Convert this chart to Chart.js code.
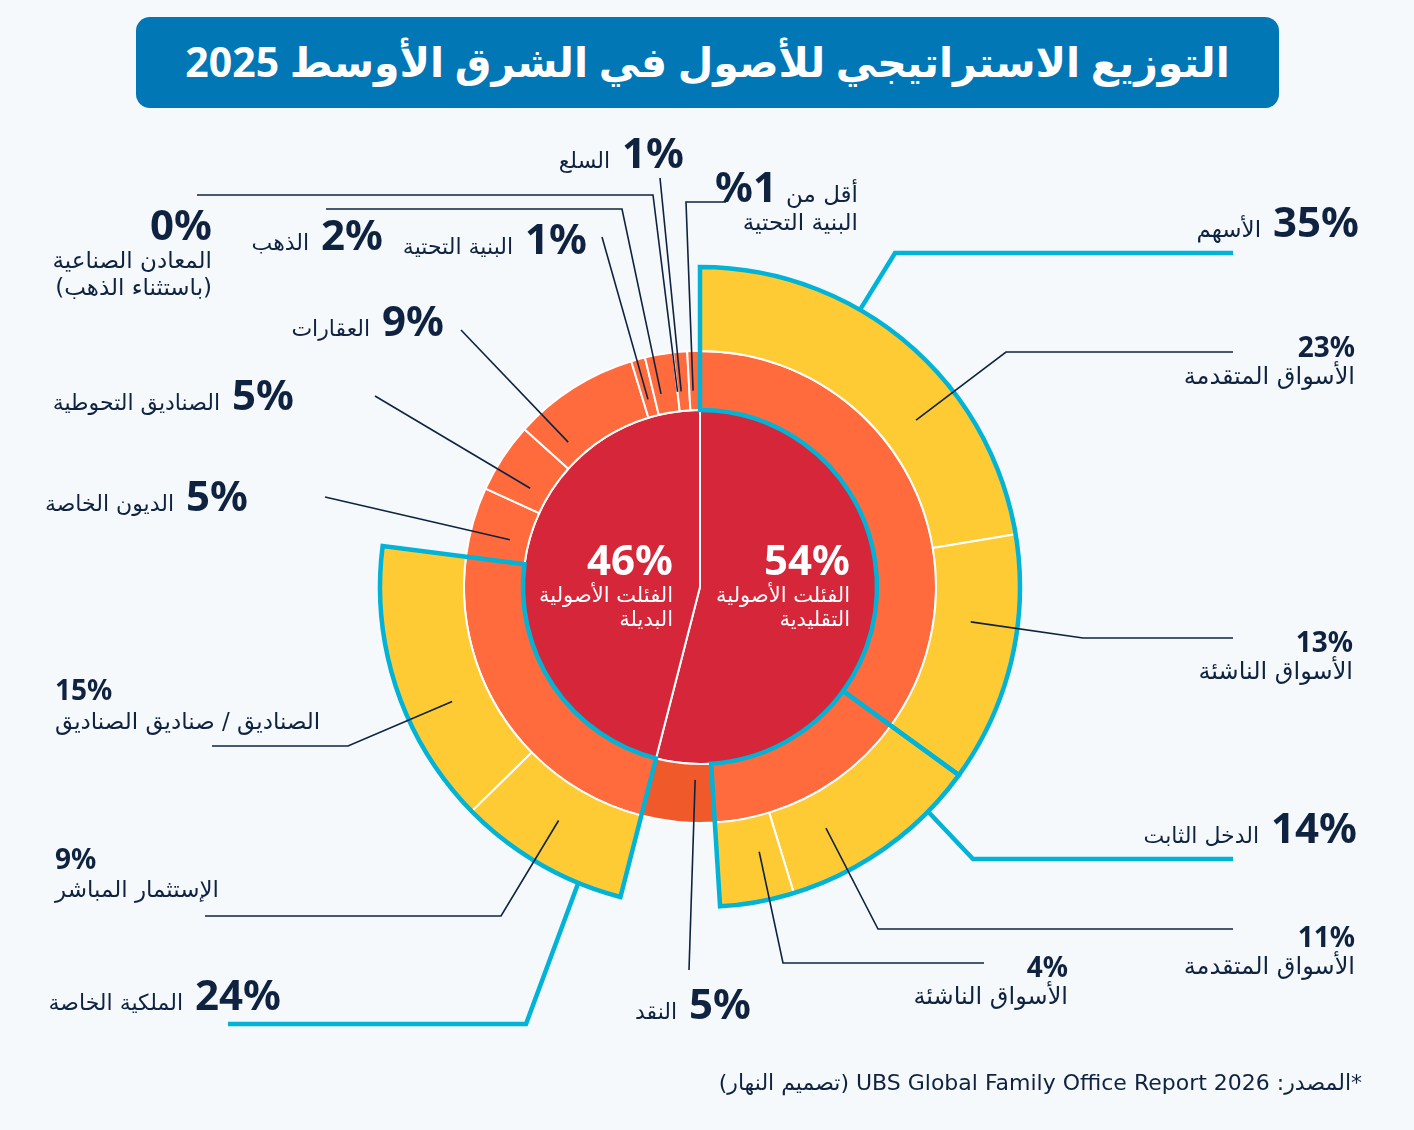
<!DOCTYPE html>
<html lang="ar">
<head>
<meta charset="utf-8">
<title>التوزيع الاستراتيجي للأصول في الشرق الأوسط 2025</title>
<script src="https://cdn.jsdelivr.net/npm/chart.js@4.4.1/dist/chart.umd.min.js"></script>
<style>
  html, body { margin: 0; padding: 0; background: #f5f9fc; }
  body { width: 1414px; height: 1130px; position: relative; overflow: hidden; }
  #title {
    position: absolute; left: 136px; top: 17px; width: 1143px; height: 91px;
    background: #0177b6; border-radius: 14px; color: #fff;
    font: bold 41px "Noto Sans", "DejaVu Sans", sans-serif;
    line-height: 88px; text-align: center; direction: rtl;
  }
  #chart { position: absolute; left: 0; top: 0; }
</style>
</head>
<body>
<div id="title">التوزيع الاستراتيجي للأصول في الشرق الأوسط 2025</div>
<canvas id="chart" width="1414" height="1130"></canvas>
<script>
// inner ring: the two asset-class families
const groupLabels = ['الفئلت الأصولية\nالتقليدية', 'الفئلت الأصولية\nالبديلة'];
const groupValues = [54, 46];

// middle ring: asset classes (clockwise from the top)
const classLabels = [
  'الأسهم', 'الدخل الثابت', 'النقد', 'الملكية الخاصة', 'الديون الخاصة',
  'الصناديق التحوطية', 'العقارات', 'البنية التحتية', 'الذهب',
  'المعادن الصناعية\n(باستثناء الذهب)', 'السلع', 'البنية التحتية'
];
const classValues = [35, 14, 5, 24, 5, 5, 9, 1, 2, 0, 1, 0.9]; // last one is "less than 1%"
const classGroup = [0, 0, 0, 1, 1, 1, 1, 1, 1, 1, 1, 1];

// outer ring: breakdown of equities, fixed income and private equity
const subLabels = [
  'الأسواق المتقدمة', 'الأسواق الناشئة', 'الأسواق المتقدمة', 'الأسواق الناشئة',
  'الإستثمار المباشر', 'الصناديق / صناديق الصناديق'
];
const subValues = [23, 13, 11, 4, 9, 15];
const subParent = [0, 0, 1, 1, 3, 3];

const red = '#d62639', orange = '#ff6b3d', cashOrange = '#f05a2a', yellow = '#ffcb34';
const cyan = '#00b3d7', navy = '#0f2340';
const numFont = '"Noto Sans", "DejaVu Sans", sans-serif';
const txtFont = '"DejaVu Sans", "Noto Sans", sans-serif';

// each ring is drawn to fit inside its parent, like a sunburst
const groupSum = groupValues.map((_, g) =>
  classValues.reduce((s, v, i) => (classGroup[i] === g ? s + v : s), 0));
const classShare = classValues.map((v, i) => v * groupValues[classGroup[i]] / groupSum[classGroup[i]]);

const outerData = [], outerColors = [], outerBorders = [], subElement = [];
classShare.forEach((share, c) => {
  const kids = subValues.map((v, s) => [v, s]).filter(([, s]) => subParent[s] === c);
  if (!kids.length) {
    outerData.push(share);
    outerColors.push('rgba(0,0,0,0)');
    outerBorders.push(0);
    return;
  }
  const kidSum = kids.reduce((s, [v]) => s + v, 0);
  kids.forEach(([v, s]) => {
    subElement[s] = outerData.length;
    outerData.push(v * share / kidSum);
    outerColors.push(yellow);
    outerBorders.push(2);
  });
});

const pctText = v => (v > 0 && v < 1 ? '%1' : v + '%');

// label layout: anchor on the arc (fraction of angle, fraction of ring depth), leader path, text spots
// a name on the same baseline as its number sits just left of it
const labelLayout = [
  { ring: 'class', i: 0, at: [0.238, 1], edge: true, path: [[895, 253], [1233, 253]], num: [1359, 237, 42], name: [0, 237, 23] },
  { ring: 'sub', i: 0, at: [0.65, 0.44], path: [[1006, 352], [1233, 352]], num: [1355, 357, 28], name: [1355, 384, 24] },
  { ring: 'sub', i: 1, at: [0.37, 0.44], path: [[1083, 638], [1233, 638]], num: [1353, 652, 28], name: [1353, 679, 24] },
  { ring: 'class', i: 1, at: [0.17, 1], edge: true, path: [[973, 859], [1233, 859]], num: [1357, 843, 42], name: [0, 843, 22] },
  { ring: 'sub', i: 2, at: [0.715, 0.43], path: [[878, 929], [1233, 929]], num: [1355, 947, 28], name: [1355, 974, 24] },
  { ring: 'sub', i: 3, at: [0.33, 0.42], path: [[783, 963], [984, 963]], num: [1068, 977, 28], name: [1068, 1004, 24] },
  { ring: 'class', i: 2, at: [0.28, 0.27], path: [[689, 970]], num: [751, 1019, 42], name: [0, 1019, 22] },
  { ring: 'class', i: 3, at: [0.096, 1], edge: true, path: [[526, 1024], [228, 1024]], num: [281, 1010, 42], name: [0, 1010, 22] },
  { ring: 'sub', i: 4, at: [0.54, 0.44], path: [[501, 916], [205, 916]], num: [55, 869, 28], name: [55, 897, 23], left: true },
  { ring: 'sub', i: 5, at: [0.38, 0.44], path: [[348, 746], [212, 746]], num: [55, 700, 28], name: [55, 729, 23], left: true },
  { ring: 'class', i: 4, at: [0.38, 0.32], path: [[325, 497]], num: [248, 511, 42], name: [0, 511, 22] },
  { ring: 'class', i: 5, at: [0.32, 0.33], path: [[375, 396]], num: [294, 410, 42], name: [0, 410, 22] },
  { ring: 'class', i: 6, at: [0.185, 0.32], path: [[461, 330]], num: [444, 336, 42], name: [0, 336, 22] },
  { ring: 'class', i: 7, at: [0.42, 0.3], path: [[602, 237]], num: [587, 254, 42], name: [0, 254, 22] },
  { ring: 'class', i: 8, at: [0.3, 0.34], path: [[622, 209], [326, 209]], num: [383, 250, 42], name: [0, 250, 22] },
  { ring: 'class', i: 9, at: [0.5, 0.33], path: [[653, 195], [197, 195]], num: [212, 240, 42], name: [212, 268, 23], lh: 27 },
  { ring: 'class', i: 10, at: [0.31, 0.33], path: [[660, 178]], num: [684, 168, 42], name: [0, 168, 22] },
  { ring: 'class', i: 11, at: [0.35, 0.33], path: [[686, 202], [726, 202]], num: [777, 202, 42], prefix: [858, 202, 23, 'أقل من'], name: [858, 230, 23] },
  { ring: 'group', i: 0, num: [850, 575, 42], name: [850, 602, 21], lh: 24, color: '#fff' },
  { ring: 'group', i: 1, num: [673, 575, 42], name: [673, 602, 21], lh: 24, color: '#fff' }
];

const ringData = {
  sub: { ds: 0, values: subValues, labels: subLabels, el: i => subElement[i] },
  class: { ds: 1, values: classValues, labels: classLabels, el: i => i },
  group: { ds: 2, values: groupValues, labels: groupLabels, el: i => i }
};

function arcPoint(el, t, r) {
  const a = el.startAngle + (el.endAngle - el.startAngle) * t;
  return [el.x + Math.cos(a) * r, el.y + Math.sin(a) * r];
}

const labelsPlugin = {
  id: 'sunburstLabels',
  afterDatasetsDraw(chart) {
    const ctx = chart.ctx;
    const outerR = chart.getDatasetMeta(0).data[0].outerRadius;
    ctx.save();

    // cyan frames around the classes that are broken down further
    [...new Set(subParent)].forEach(c => {
      const el = chart.getDatasetMeta(1).data[c];
      ctx.beginPath();
      ctx.arc(el.x, el.y, outerR, el.startAngle, el.endAngle);
      ctx.arc(el.x, el.y, el.innerRadius, el.endAngle, el.startAngle, true);
      ctx.closePath();
      ctx.strokeStyle = cyan;
      ctx.lineWidth = 4.5;
      ctx.lineJoin = 'miter';
      ctx.stroke();
    });

    labelLayout.forEach(l => {
      const ring = ringData[l.ring];
      // leader line
      if (l.path) {
        const el = chart.getDatasetMeta(ring.ds).data[ring.el(l.i)];
        const r = l.edge ? outerR : el.innerRadius + (el.outerRadius - el.innerRadius) * l.at[1];
        const start = arcPoint(el, l.at[0], r);
        ctx.beginPath();
        ctx.moveTo(start[0], start[1]);
        l.path.forEach(p => ctx.lineTo(p[0], p[1]));
        ctx.strokeStyle = l.edge ? cyan : navy;
        ctx.lineWidth = l.edge ? 4.5 : 1.6;
        ctx.lineJoin = 'miter';
        ctx.stroke();
      }
      // texts
      ctx.fillStyle = l.color || navy;
      ctx.textAlign = l.left ? 'left' : 'right';
      ctx.textBaseline = 'alphabetic';
      ctx.direction = 'ltr';
      ctx.font = `bold ${l.num[2]}px ${numFont}`;
      const numText = pctText(ring.values[l.i]);
      const numW = ctx.measureText(numText).width;
      ctx.fillText(numText, l.num[0], l.num[1]);
      ctx.direction = 'rtl';
      if (l.prefix) {
        ctx.font = `${l.prefix[2]}px ${txtFont}`;
        ctx.fillText(l.prefix[3], l.prefix[0], l.prefix[1]);
      }
      ctx.font = `${l.name[2]}px ${txtFont}`;
      const nameX = l.name[1] === l.num[1] ? l.num[0] - numW - 12 : l.name[0];
      ring.labels[l.i].split('\n').forEach((line, k) => {
        ctx.fillText(line, nameX, l.name[1] + k * (l.lh || 26));
      });
    });

    // source line
    ctx.fillStyle = navy;
    ctx.textAlign = 'right';
    ctx.direction = 'rtl';
    ctx.font = `22px ${txtFont}`;
    ctx.fillText('*المصدر: UBS Global Family Office Report 2026 (تصميم النهار)', 1362, 1090);
    ctx.restore();
  }
};

new Chart(document.getElementById('chart'), {
  type: 'doughnut',
  data: {
    datasets: [
      {
        data: outerData,
        backgroundColor: outerColors,
        borderColor: '#fff',
        borderWidth: outerBorders,
        weight: 84
      },
      {
        data: classShare,
        backgroundColor: classValues.map((_, i) => (i === 2 ? cashOrange : orange)),
        borderColor: '#fff',
        borderWidth: 2,
        weight: 59
      },
      {
        data: groupValues,
        backgroundColor: [red, red],
        borderColor: '#fff',
        borderWidth: 2,
        weight: 177
      }
    ]
  },
  options: {
    responsive: false,
    animation: false,
    events: [],
    cutout: 0,
    radius: 320,
    layout: { padding: { left: 0, right: 14, top: 44, bottom: 0 } },
    plugins: {
      legend: { display: false },
      tooltip: { enabled: false }
    }
  },
  plugins: [labelsPlugin]
});
</script>
</body>
</html>
